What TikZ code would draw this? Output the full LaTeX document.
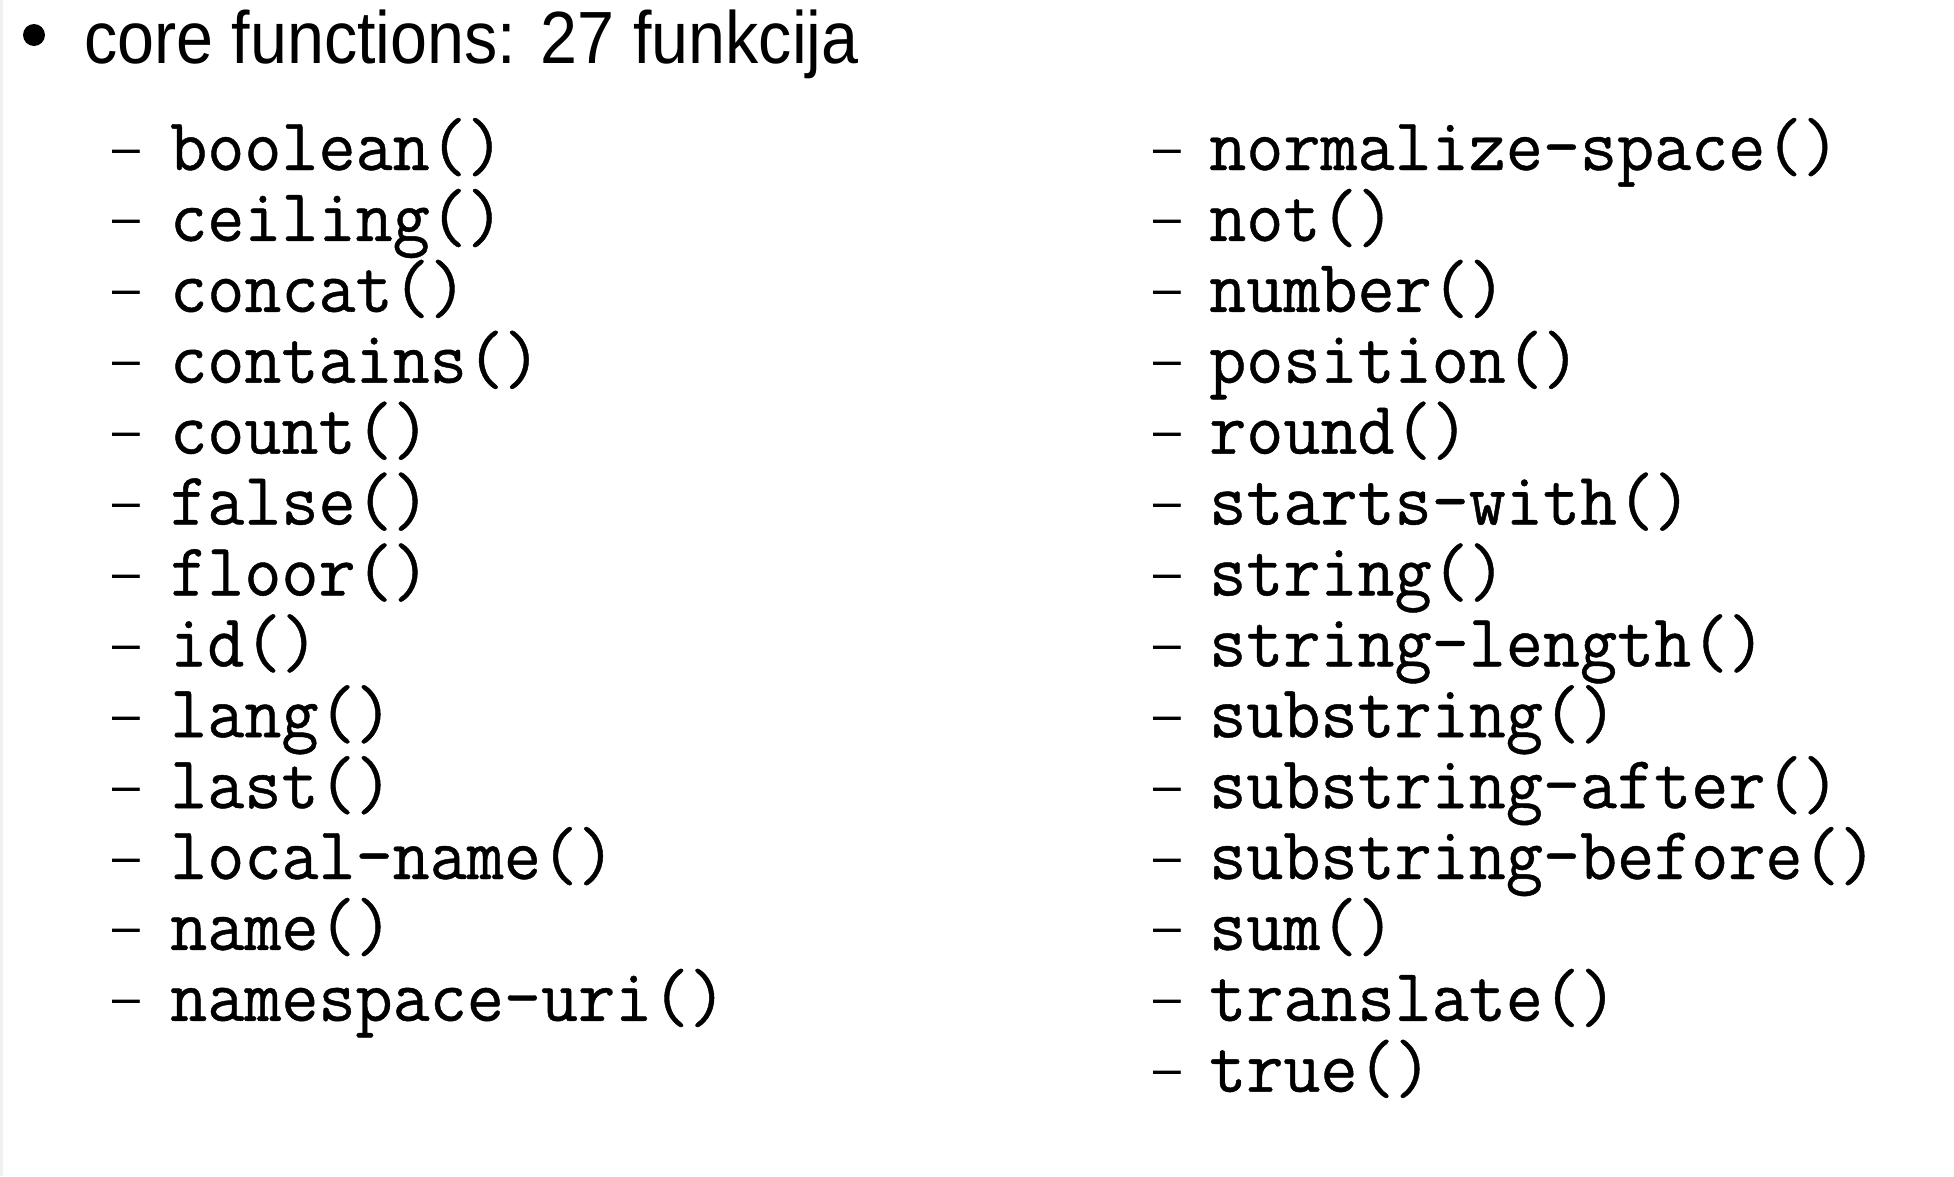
\documentclass[tikz,border=0pt]{standalone}
\usepackage{fontspec}
\setmainfont{Liberation Sans}
\setmonofont{Latin Modern Mono}[FakeBold=0.6]
\begin{document}
\begin{tikzpicture}[x=1pt,y=-1pt,
  titletext/.style={anchor=base west,inner sep=0pt,font=\fontsize{74}{80}\selectfont},
  fn/.style={anchor=base west,inner sep=0pt,font=\fontsize{72}{78}\ttfamily},
  dashmark/.style={anchor=base west,inner sep=0pt,font=\fontsize{50}{55}\selectfont}]
\useasboundingbox (0,0) rectangle (1954,1176);
\fill[white] (0,0) rectangle (1954,1176);
\fill[black!6] (0,0) rectangle (2.5,1176);
\fill (34,35) circle (11) coordinate (bul);
\node[titletext] (title) at (84,63) {\scalebox{0.898}[1]{core functions: 27 funkcija}};
\foreach \t [count=\i from 0] in {boolean(),ceiling(),concat(),contains(),count(),false(),floor(),id(),lang(),last(),local-name(),name(),namespace-uri()}{
  \node[dashmark] (ld\i) at (112,{170+\i*70.9-6}) {–};
  \node[fn] (l\i) at (170,{170+\i*70.9}) {\scalebox{1}[1.04]{\t}};
}
\foreach \t [count=\i from 0] in {normalize-space(),not(),number(),position(),round(),starts-with(),string(),string-length(),substring(),substring-after(),substring-before(),sum(),translate(),true()}{
  \node[dashmark] (rd\i) at (1153,{170+\i*70.9-6}) {–};
  \node[fn] (r\i) at (1209,{170+\i*70.9}) {\scalebox{1}[1.04]{\t}};
}
\end{tikzpicture}
\end{document}
